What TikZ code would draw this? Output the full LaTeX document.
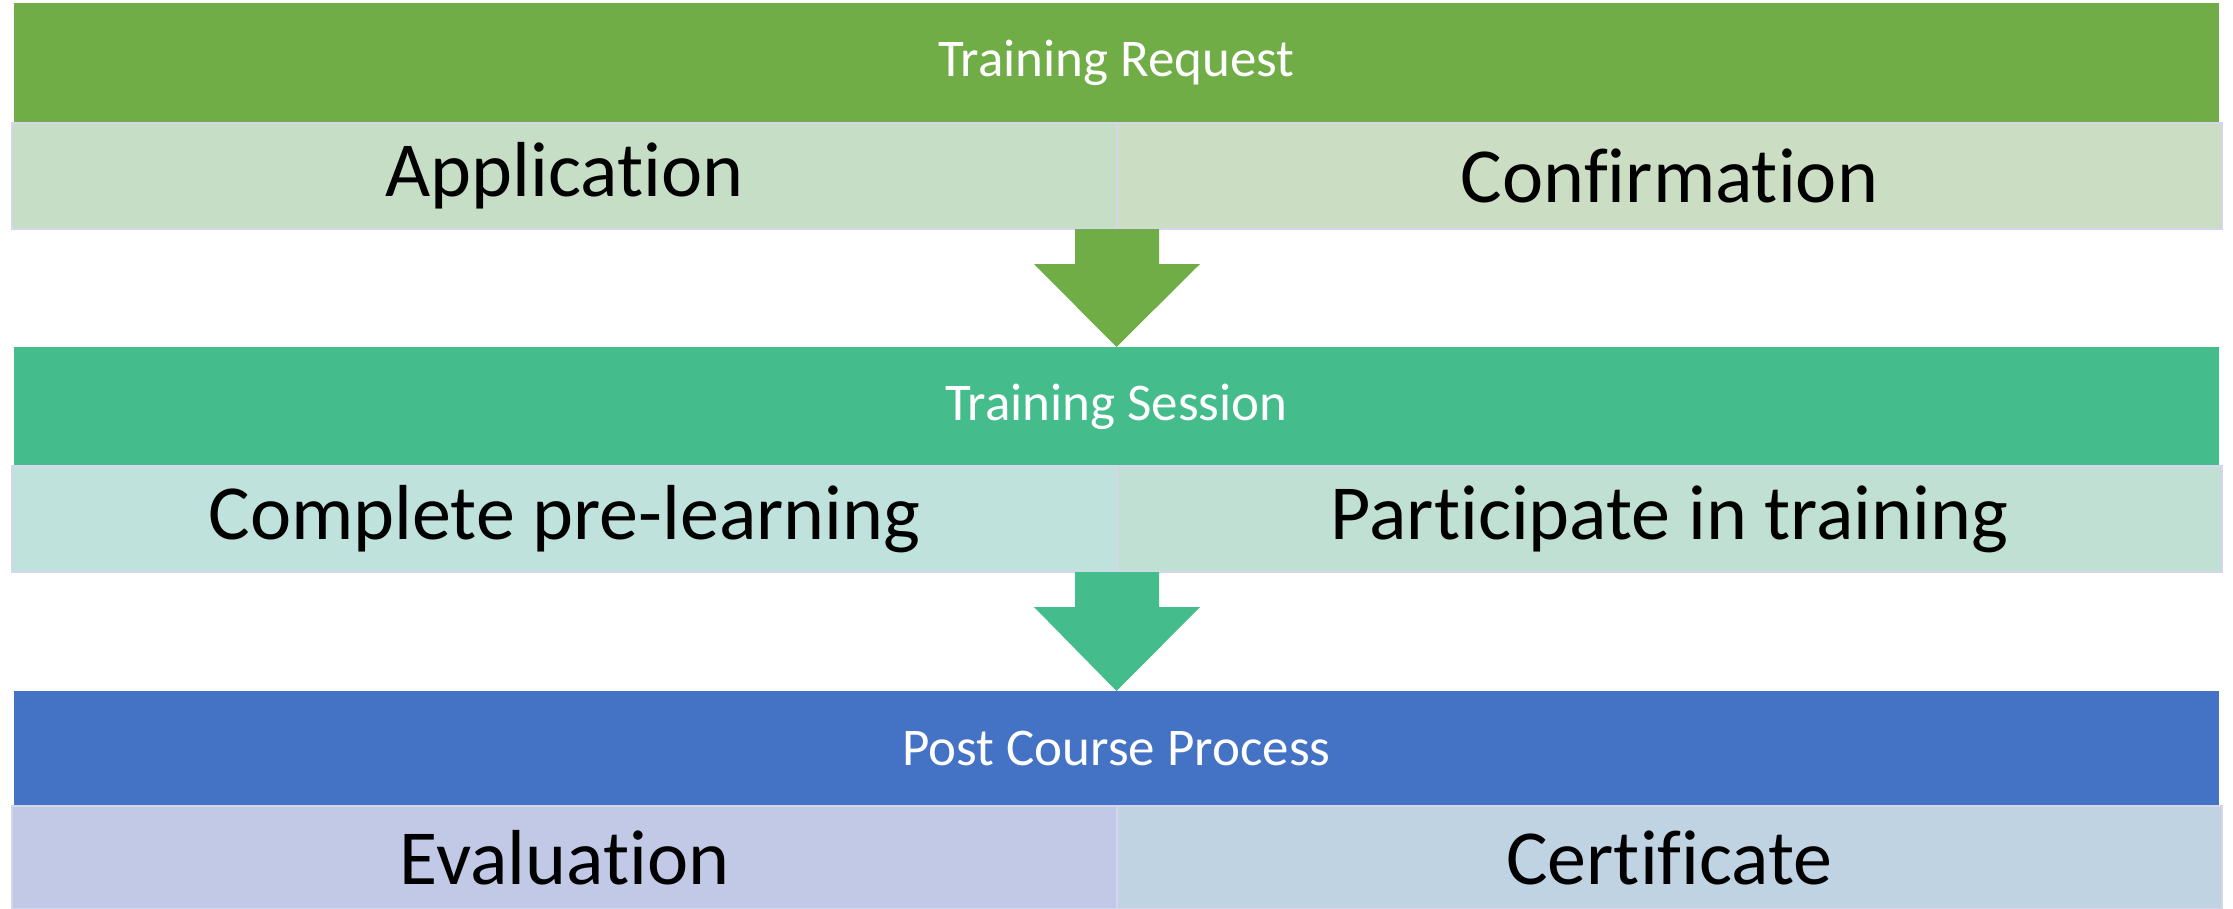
\documentclass[tikz,border=0pt]{standalone}
\usepackage{fontspec}
\setmainfont[Ligatures=NoCommon]{Carlito}
\usetikzlibrary{calc}
\newcommand{\nolig}{\kern0pt{}}
\definecolor{reqgreen}{HTML}{70AD47}
\definecolor{sessgreen}{HTML}{44BC8C}
\definecolor{postblue}{HTML}{4472C4}
\definecolor{cellline}{HTML}{D4D7EC}
\definecolor{appfill}{HTML}{C6DEC6}
\definecolor{conffill}{HTML}{CBDDC3}
\definecolor{prefill}{HTML}{BFE2DC}
\definecolor{partfill}{HTML}{C1E0D4}
\definecolor{evalfill}{HTML}{C1C9E6}
\definecolor{certfill}{HTML}{C0D3E3}
\tikzset{
  head/.style={fill=#1,text=white,minimum width=2205,minimum height=120,
    inner sep=0pt,outer sep=0pt,anchor=north west,font=\fontsize{53}{60}\selectfont},
  cell/.style={fill=#1,draw=cellline,line width=1.5pt,minimum width=1105,
    minimum height=106,inner sep=0pt,outer sep=0pt,anchor=north west,
    font=\fontsize{78}{90}\selectfont}
}
\begin{document}
\begin{tikzpicture}[x=1pt,y=-1pt]
  \useasboundingbox[fill=white] (0,0) rectangle (2233,908);
  % training request
  \node[head=reqgreen] (reqhead) at (14,3) {Training Request};
  \node[cell=appfill] (app) at (12,123) {Applicat\nolig ion};
  \node[cell=conffill] (conf) at (1117,123) {Conf\nolig irmat\nolig ion};
  % training session
  \node[head=sessgreen] (sesshead) at (14,347) {Training Session};
  \node[cell=prefill] (prelearn) at (12,466) {Complete pre-learning};
  \node[cell=partfill] (partic) at (1117,466) {Part\nolig icipate in training};
  % post course
  \node[head=postblue,minimum height=115] (posthead) at (14,691) {Post Course Process};
  \node[cell=evalfill,minimum height=103] (eval) at (12,806) {Evaluat\nolig ion};
  \node[cell=certfill,minimum height=103] (cert) at (1117,806) {Cert\nolig if\nolig icate};
  % arrows
  \fill[reqgreen] ($(app.south east)+(-42,0)$) -- ($(app.south east)+(42,0)$)
    -- ($(app.south east)+(42,35)$) -- ($(app.south east)+(83,35)$)
    -- (sesshead.north) -- ($(app.south east)+(-83,35)$)
    -- ($(app.south east)+(-42,35)$) -- cycle;
  \fill[sessgreen] ($(prelearn.south east)+(-42,0)$) -- ($(prelearn.south east)+(42,0)$)
    -- ($(prelearn.south east)+(42,35)$) -- ($(prelearn.south east)+(83,35)$)
    -- (posthead.north) -- ($(prelearn.south east)+(-83,35)$)
    -- ($(prelearn.south east)+(-42,35)$) -- cycle;
\end{tikzpicture}
\end{document}
